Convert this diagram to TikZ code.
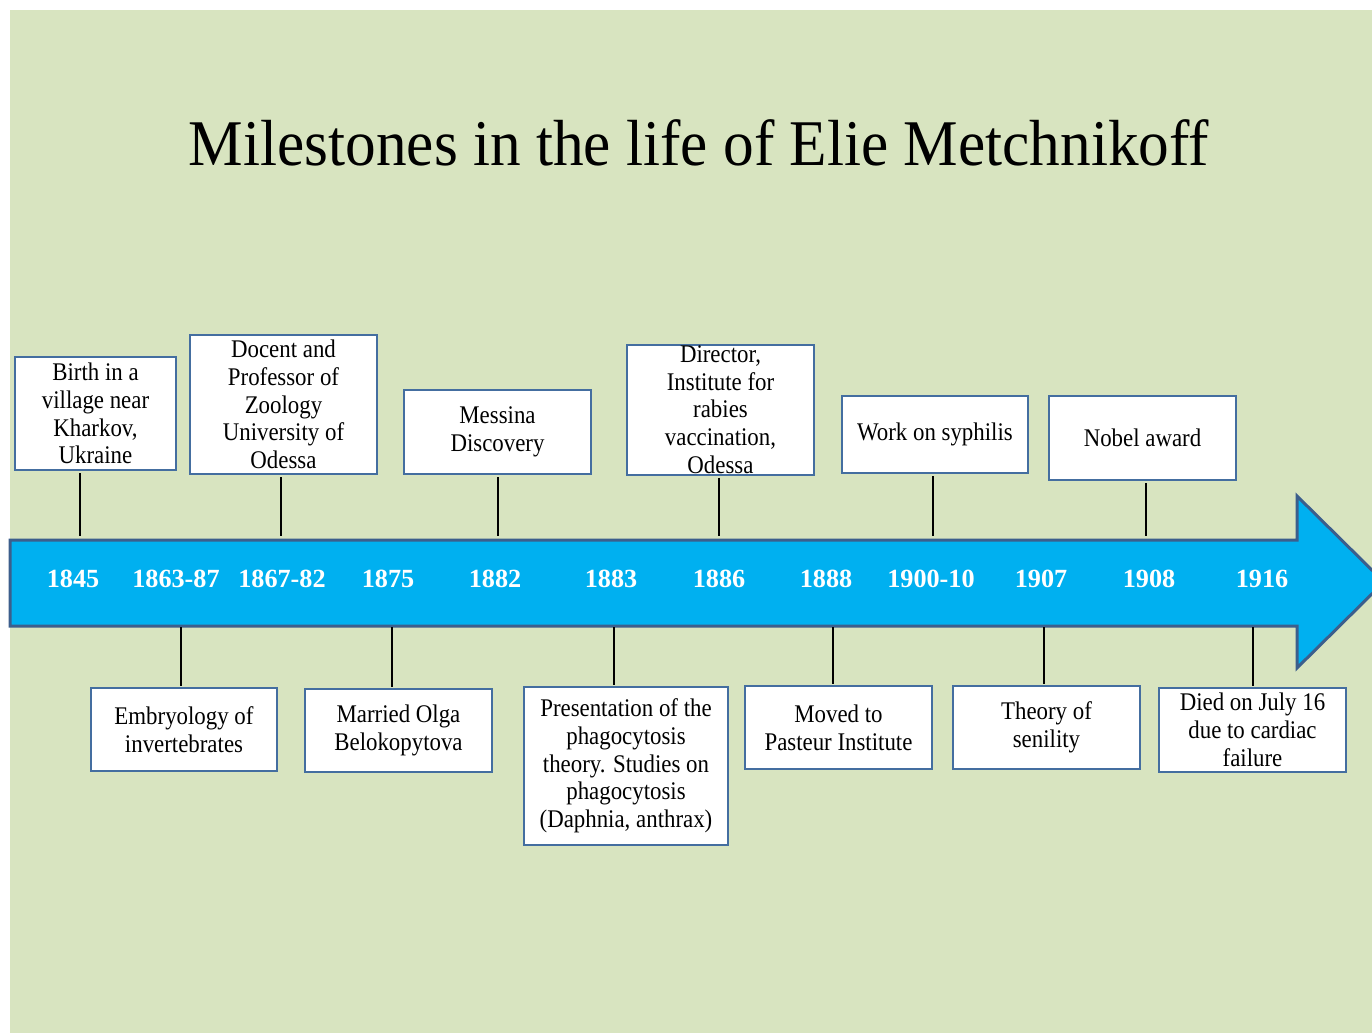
\documentclass[tikz,border=0pt]{standalone}
\usepackage{fontspec}
\setmainfont{Liberation Serif}
\newfontfamily\boxfont{Liberation Serif}[FakeStretch=0.9]
\newfontfamily\titlefont{Liberation Serif}[FakeStretch=0.94]
\usetikzlibrary{positioning}

\definecolor{bggreen}{RGB}{216,228,192}
\definecolor{arrowfill}{RGB}{0,176,240}
\definecolor{arrowline}{RGB}{60,94,140}
\definecolor{boxline}{RGB}{68,110,160}

\begin{document}
\begin{tikzpicture}[x=0.5pt,y=-0.5pt,every node/.style={outer sep=0pt},
 evbox/.style={draw=boxline,fill=white,line width=1pt,inner sep=0pt,
 align=center,font=\boxfont\fontsize{12.7}{13.85}\selectfont},
 yearlbl/.style={anchor=base,text=white,font=\fontsize{13.1}{14}\selectfont\bfseries},
 tick/.style={line width=1pt,black}]

  \clip (0,0) rectangle (1372,1033);
  \fill[bggreen] (10,10) rectangle (1372,1033);

  \node[anchor=base,font=\titlefont\fontsize{32.6}{36}\selectfont] (title) at (699,165)
   {Milestones in the life of Elie Metchnikoff};

  % the time arrow
  \draw[fill=arrowfill,draw=arrowline,line width=1.5pt,line join=miter]
   (10,540) -- (1297,540) -- (1297,496) -- (1384,582) -- (1297,668)
   -- (1297,626) -- (10,626) -- cycle;

  \foreach \Y/\P [count=\i] in {1845/73,1863-87/176,1867-82/282,1875/388,
   1882/495,1883/611,1886/719,1888/826,1900-10/931,1907/1041,1908/1149,1916/1262}
  {\node[yearlbl] (y\i) at (\P,587) {\Y};}

  % events above the arrow
  \node[evbox,minimum width=80.5pt,minimum height=56.5pt] (u1) at (95.5,413.5)
   {Birth in a\\village near\\Kharkov,\\Ukraine};
  \node[evbox,minimum width=93.5pt,minimum height=69.5pt] (u2) at (283.5,404.5)
   {Docent and\\Professor of\\Zoology\\University of\\Odessa};
  \node[evbox,minimum width=93.5pt,minimum height=42pt] (u3) at (497.5,432)
   {Messina\\Discovery};
  \node[evbox,minimum width=93.5pt,minimum height=65pt] (u4) at (720.5,409.5)
   {Director,\\Institute for\\rabies\\vaccination,\\Odessa};
  \node[evbox,minimum width=93pt,minimum height=38.5pt] (u5) at (935,434.5)
   {Work on syphilis};
  \node[evbox,minimum width=93.5pt,minimum height=42pt] (u6) at (1142.5,438)
   {Nobel award};

  % events below the arrow
  \node[evbox,minimum width=93pt,minimum height=41.5pt] (d1) at (184,729.5)
   {Embryology of\\invertebrates};
  \node[evbox,minimum width=93.5pt,minimum height=41.5pt] (d2) at (398.5,730.5)
   {Married Olga\\Belokopytova};
  \node[evbox,minimum width=102pt,minimum height=79pt] (d3) at (626,766)
   {Presentation of the\\phagocytosis\\theory. Studies on\\phagocytosis\\(Daphnia, anthrax)};
  \node[evbox,minimum width=93.5pt,minimum height=41.5pt] (d4) at (838.5,727.5)
   {Moved to\\Pasteur Institute};
  \node[evbox,minimum width=93.5pt,minimum height=41.5pt] (d5) at (1046.5,727.5)
   {Theory of\\senility};
  \node[evbox,minimum width=93.5pt,minimum height=42pt] (d6) at (1252.5,730)
   {Died on July 16\\due to cardiac\\failure};

  \foreach \X/\P in {1/80,2/281,3/498,4/719,5/933,6/1146}
  {\coordinate (t\X) at (\P,536);
   \draw[tick,shorten <=1.5pt] (t\X |- u\X.south) -- (t\X);}
  \foreach \X/\P in {1/181,2/392,3/614,4/833,5/1044,6/1253}
  {\coordinate (b\X) at (\P,627);
   \draw[tick,shorten >=1pt] (b\X) -- (b\X |- d\X.north);}
\end{tikzpicture}
\end{document}
